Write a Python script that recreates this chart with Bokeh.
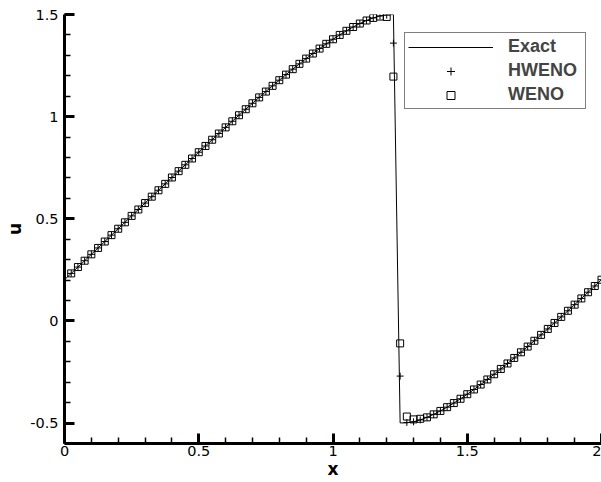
from bokeh.plotting import figure
from bokeh.models import (FixedTicker, NumeralTickFormatter, Legend, LegendItem, Range1d)
from bokeh.embed import file_html
from bokeh.resources import INLINE

# grid points
x = [0.000, 0.025, 0.050, 0.075, 0.100, 0.125, 0.150, 0.175, 0.200, 0.225,
     0.250, 0.275, 0.300, 0.325, 0.350, 0.375, 0.400, 0.425, 0.450, 0.475,
     0.500, 0.525, 0.550, 0.575, 0.600, 0.625, 0.650, 0.675, 0.700, 0.725,
     0.750, 0.775, 0.800, 0.825, 0.850, 0.875, 0.900, 0.925, 0.950, 0.975,
     1.000, 1.025, 1.050, 1.075, 1.100, 1.125, 1.150, 1.175, 1.200, 1.225,
     1.250, 1.275, 1.300, 1.325, 1.350, 1.375, 1.400, 1.425, 1.450, 1.475,
     1.500, 1.525, 1.550, 1.575, 1.600, 1.625, 1.650, 1.675, 1.700, 1.725,
     1.750, 1.775, 1.800, 1.825, 1.850, 1.875, 1.900, 1.925, 1.950, 1.975,
     2.000]

exact = [0.2018, 0.2327, 0.2637, 0.2948, 0.3260, 0.3573, 0.3886, 0.4200, 0.4513, 0.4827,
         0.5142, 0.5456, 0.5770, 0.6083, 0.6396, 0.6709, 0.7021, 0.7332, 0.7642, 0.7951,
         0.8259, 0.8565, 0.8870, 0.9173, 0.9474, 0.9773, 1.0069, 1.0363, 1.0654, 1.0942,
         1.1227, 1.1508, 1.1784, 1.2057, 1.2324, 1.2585, 1.2841, 1.3090, 1.3332, 1.3565,
         1.3788, 1.4001, 1.4202, 1.4388, 1.4557, 1.4707, 1.4833, 1.4930, 1.4988, 1.4996,
         -0.4993, -0.4991, -0.4937, -0.4844, -0.4721, -0.4573, -0.4405, -0.4221, -0.4021, -0.3810,
         -0.3587, -0.3355, -0.3114, -0.2866, -0.2611, -0.2350, -0.2083, -0.1811, -0.1535, -0.1255,
         -0.0971, -0.0683, -0.0392, -0.0099, 0.0198, 0.0496, 0.0797, 0.1100, 0.1405, 0.1711,
         0.2018]

# numerical solutions at x = 0.025 ... 2.0
hweno = [0.2327, 0.2637, 0.2948, 0.3260, 0.3573, 0.3886, 0.4200, 0.4513, 0.4827,
         0.5142, 0.5456, 0.5770, 0.6083, 0.6396, 0.6709, 0.7021, 0.7332, 0.7642, 0.7951,
         0.8259, 0.8565, 0.8870, 0.9173, 0.9474, 0.9773, 1.0069, 1.0363, 1.0654, 1.0942,
         1.1227, 1.1508, 1.1784, 1.2057, 1.2324, 1.2585, 1.2841, 1.3090, 1.3332, 1.3565,
         1.3788, 1.4001, 1.4202, 1.4388, 1.4557, 1.4707, 1.4833, 1.4930, 1.4970, 1.3600,
         -0.2700, -0.4970, -0.4937, -0.4844, -0.4721, -0.4573, -0.4405, -0.4221, -0.4021, -0.3810,
         -0.3587, -0.3355, -0.3114, -0.2866, -0.2611, -0.2350, -0.2083, -0.1811, -0.1535, -0.1255,
         -0.0971, -0.0683, -0.0392, -0.0099, 0.0198, 0.0496, 0.0797, 0.1100, 0.1405, 0.1711,
         0.2018]

weno = [0.2327, 0.2637, 0.2948, 0.3260, 0.3573, 0.3886, 0.4200, 0.4513, 0.4827,
        0.5142, 0.5456, 0.5770, 0.6083, 0.6396, 0.6709, 0.7021, 0.7332, 0.7642, 0.7951,
        0.8259, 0.8565, 0.8870, 0.9173, 0.9474, 0.9773, 1.0069, 1.0363, 1.0654, 1.0942,
        1.1227, 1.1508, 1.1784, 1.2057, 1.2324, 1.2585, 1.2841, 1.3090, 1.3332, 1.3565,
        1.3788, 1.4001, 1.4202, 1.4388, 1.4557, 1.4707, 1.4833, 1.4900, 1.4880, 1.1960,
        -0.1100, -0.4680, -0.4820, -0.4790, -0.4721, -0.4573, -0.4405, -0.4221, -0.4021, -0.3810,
        -0.3587, -0.3355, -0.3114, -0.2866, -0.2611, -0.2350, -0.2083, -0.1811, -0.1535, -0.1255,
        -0.0971, -0.0683, -0.0392, -0.0099, 0.0198, 0.0496, 0.0797, 0.1100, 0.1405, 0.1711,
        0.2018]

x_num = x[1:]

x_major = [0, 0.5, 1, 1.5, 2]
x_minor = [0.0, 0.1, 0.2, 0.3, 0.4, 0.5, 0.6, 0.7, 0.8, 0.9, 1.0,
           1.1, 1.2, 1.3, 1.4, 1.5, 1.6, 1.7, 1.8, 1.9, 2.0]
y_major = [-0.5, 0, 0.5, 1, 1.5]
y_minor = [-0.6, -0.5, -0.4, -0.3, -0.2, -0.1, 0.0, 0.1, 0.2, 0.3, 0.4, 0.5,
           0.6, 0.7, 0.8, 0.9, 1.0, 1.1, 1.2, 1.3, 1.4, 1.5]

FONT = "DejaVu Sans"
LEG_FONT = "Liberation Sans"

p = figure(width=601, height=482, x_range=Range1d(0, 2), y_range=Range1d(-0.6, 1.5),
           output_backend="svg", toolbar_location=None, title=None,
           x_axis_label="x", y_axis_label="u",
           min_border_left=64, min_border_right=0, min_border_top=14, min_border_bottom=39)
p.outline_line_color = None
p.background_fill_color = "white"
p.border_fill_color = "white"
p.xgrid.visible = False
p.ygrid.visible = False

for ax, maj, mnr in ((p.xaxis[0], x_major, x_minor), (p.yaxis[0], y_major, y_minor)):
    ax.ticker = FixedTicker(ticks=maj, minor_ticks=mnr)
    ax.formatter = NumeralTickFormatter(format="0.[0]")
    ax.axis_line_width = 3
    ax.axis_line_color = "black"
    ax.major_tick_in = 10
    ax.major_tick_out = 0
    ax.major_tick_line_width = 3
    ax.major_tick_line_color = "black"
    ax.minor_tick_in = 6
    ax.minor_tick_out = 0
    ax.minor_tick_line_width = 1.5
    ax.minor_tick_line_color = "black"
    ax.major_label_text_font = FONT
    ax.major_label_text_font_size = "14.5px"
    ax.major_label_text_color = "black"
    ax.axis_label_text_font = FONT
    ax.axis_label_text_font_style = "bold"
    ax.axis_label_text_font_size = "17px"
    ax.axis_label_text_color = "black"
p.xaxis[0].major_label_standoff = 2
p.xaxis[0].axis_label_standoff = 0
p.yaxis[0].major_label_standoff = 6
p.yaxis[0].axis_label_standoff = 2

r_exact = p.line(x, exact, line_color="black", line_width=1)
r_h = p.scatter(x_num, hweno, marker="cross", size=7, line_color="black", line_width=1)
r_w = p.scatter(x_num, weno, marker="square", size=7, fill_color=None,
                line_color="black", line_width=1)

legend = Legend(items=[LegendItem(label="Exact", renderers=[r_exact]),
                       LegendItem(label="HWENO", renderers=[r_h]),
                       LegendItem(label="WENO", renderers=[r_w])],
                location=(340, 334))
legend.border_line_color = "black"
legend.border_line_width = 1.2
legend.background_fill_color = "white"
legend.background_fill_alpha = 1
legend.padding = 3
legend.spacing = 3
legend.margin = 0
legend.glyph_width = 85
legend.glyph_height = 20
legend.label_height = 20
legend.label_width = 74
legend.label_standoff = 15
legend.label_text_font = LEG_FONT
legend.label_text_font_style = "bold"
legend.label_text_font_size = "18px"
p.add_layout(legend)

open("out.html", "w").write(file_html(p, INLINE))
